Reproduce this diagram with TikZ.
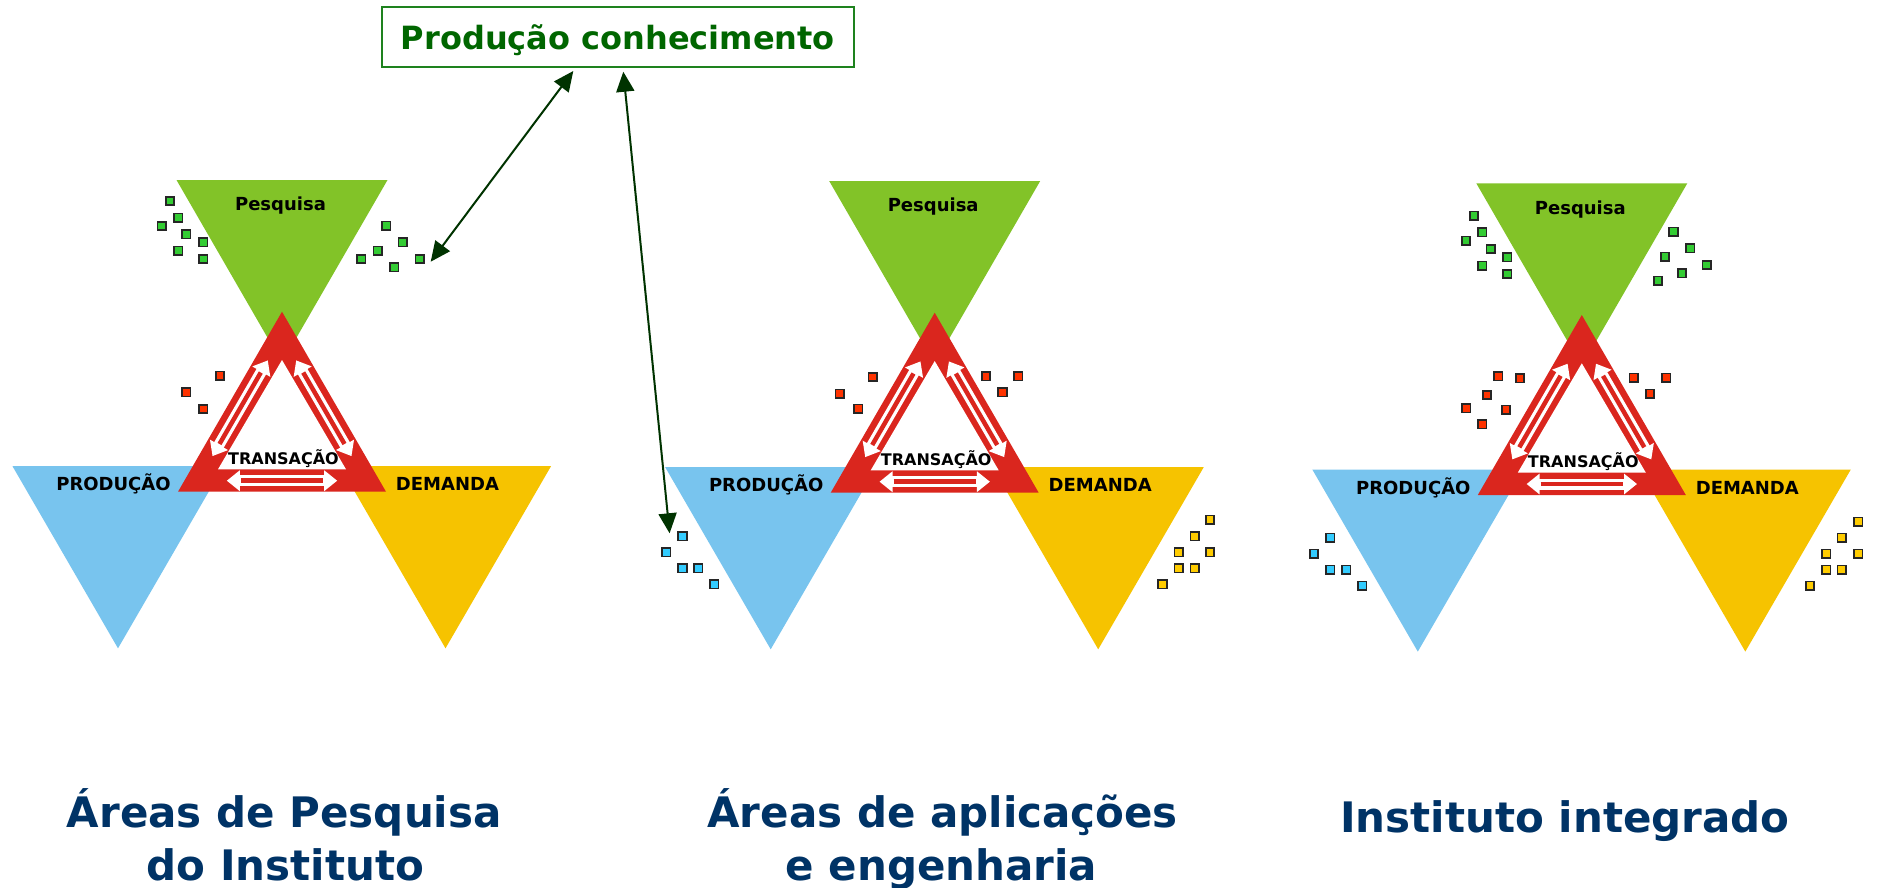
\documentclass[tikz,border=0pt]{standalone}
\usepackage{fontspec}
\setmainfont{DejaVu Sans}
\usetikzlibrary{arrows.meta}
\definecolor{pgreen}{RGB}{130,195,40}
\definecolor{pblue}{RGB}{120,196,238}
\definecolor{pyellow}{RGB}{246,195,0}
\definecolor{pred}{RGB}{218,38,30}
\definecolor{sqgreen}{RGB}{51,204,51}
\definecolor{sqred}{RGB}{255,51,0}
\definecolor{sqblue}{RGB}{51,204,255}
\definecolor{sqyellow}{RGB}{255,204,0}
\definecolor{boxtext}{RGB}{0,102,0}
\definecolor{boxline}{RGB}{30,130,30}
\definecolor{arrowgreen}{RGB}{0,51,0}
\definecolor{navy}{RGB}{0,51,102}
\tikzset{
 lbl/.style={anchor=base, inner sep=0pt, font=\fontsize{18}{20}\selectfont\bfseries, text=black},
 tlbl/.style={anchor=base, inner sep=0pt, font=\fontsize{16}{18}\selectfont\bfseries, text=black},
 sq/.style={draw=black!85, line width=1.6pt, minimum size=8.5pt, inner sep=0pt, outer sep=0pt},
 wa/.style={draw=white, line width=11pt, {Triangle[width=20pt,length=13pt]}-{Triangle[width=20pt,length=13pt]}},
 ws/.style={draw=pred, line width=4.5pt, shorten <=14pt, shorten >=14pt},
 conn/.style={draw=arrowgreen, line width=2pt, {Triangle[width=18pt,length=20pt]}-{Triangle[width=18pt,length=20pt]}},
 ttl/.style={anchor=base, inner sep=0pt, font=\fontsize{42}{48}\selectfont\bfseries, text=navy},
}
\newcommand{\trigroup}[3]{%
\begin{scope}[shift={(#2,#3)}]
\fill[pgreen] (-105.5,-131.7) -- (105.5,-131.7) -- (0,51) -- cycle;
\fill[pblue] (-269.5,154.5) -- (-58.5,154.5) -- (-164,336.6) -- cycle;
\fill[pyellow] (58,154.5) -- (269,154.5) -- (163.5,336.6) -- cycle;
\fill[pred] (0,0) -- (-104,180) -- (104,180) -- cycle;
\fill[white] (0,48.3) -- (-64,157.6) -- (64,157.6) -- cycle;
\coordinate (#1L1) at (-14.2,48.7); \coordinate (#1L2) at (-69.5,144.4);
\coordinate (#1R1) at (14.2,48.7); \coordinate (#1R2) at (69.5,144.4);
\coordinate (#1B1) at (-55.2,169); \coordinate (#1B2) at (55.2,169);
\draw[wa] (#1L1) -- (#1L2); \draw[ws] (#1L1) -- (#1L2);
\draw[wa] (#1R1) -- (#1R2); \draw[ws] (#1R1) -- (#1R2);
\draw[wa] (#1B1) -- (#1B2); \draw[ws] (#1B1) -- (#1B2);
\node[lbl] (#1pes) at (-1.5,-101) {Pesquisa};
\node[lbl] (#1pro) at (-168.5,179) {PRODUÇÃO};
\node[lbl] (#1dem) at (165.5,179) {DEMANDA};
\node[tlbl] (#1tra) at (1.5,152.3) {TRANSAÇÃO};
\end{scope}}
\begin{document}
\begin{tikzpicture}[x=1pt,y=-1pt]
\useasboundingbox[fill=white] (0,0) rectangle (1877,887);
\trigroup{ga}{282}{311.7}
\trigroup{gb}{934.7}{312.7}
\trigroup{gc}{1581.8}{315}
% squares
\foreach \x/\y [count=\i] in {170/201,178.2/217.7,161.8/226,186.4/234.3,203.2/242.3,178.2/250.7,203.2/259,386.4/225.7,402.9/242.3,377.9/250.7,361.4/259,394.3/267.3,419.6/259,1474/215.7,1482.2/232.3,1466/240.7,1490.6/249,1507.2/257.3,1482.2/265.7,1507.2/274,1673.5/231.7,1690.4/248.3,1665/256.7,1706.6/265,1682/273.3,1658/280.7}
  \node[sq, fill=sqgreen] (sg\i) at (\x,\y) {};
\foreach \x/\y [count=\i] in {220/375.7,186.4/392.3,203.2/409,872.9/377,839.6/393.7,858.2/408.7,986/376.3,1018.2/376.3,1002.5/392.3,1498.3/376.3,1520/378.3,1487/395,1466.3/408.3,1506/409.7,1482.2/424.3,1633.8/377.7,1666.1/377.7,1650/393.7}
  \node[sq, fill=sqred] (sr\i) at (\x,\y) {};
\foreach \x/\y [count=\i] in {682.5/536.3,666.4/552.3,682.5/568.3,698.2/568.3,714.3/584.3,1330.2/537.7,1314/553.7,1330.2/569.7,1346.4/569.7,1362.2/585.7}
  \node[sq, fill=sqblue] (sb\i) at (\x,\y) {};
\foreach \x/\y [count=\i] in {1210/519.7,1194.6/536.3,1178.6/552.3,1210/552.3,1178.6/568.3,1194.6/568.3,1162.5/584.3,1858.2/521.7,1841.7/537.7,1826.2/553.7,1858.2/553.7,1826.2/569.7,1841.7/569.7,1810/585.7}
  \node[sq, fill=sqyellow] (sy\i) at (\x,\y) {};
% top box
\node[draw=boxline, line width=2pt, minimum width=472pt, minimum height=60pt, inner sep=0pt,
  text height=25pt, text depth=0pt, text=boxtext, font=\fontsize{32}{36}\selectfont\bfseries]
  (pc) at (617.85,36.7) {Produção conhecimento};
\coordinate (a1top) at (573.3,71);
\coordinate (a1bot) at (430.7,261.7);
\coordinate (a2top) at (623.3,71.7);
\coordinate (a2bot) at (669.6,533.3);
\draw[conn] (a1top) -- (a1bot);
\draw[conn] (a2top) -- (a2bot);
% titles
\node[ttl] (t1a) at (284.3,827) {Áreas de Pesquisa};
\node[ttl] (t1b) at (285.5,880) {do Instituto};
\node[ttl] (t2a) at (942.7,827) {Áreas de aplicações};
\node[ttl] (t2b) at (941.5,880) {e engenharia};
\node[ttl] (t3a) at (1565,832) {Instituto integrado};
\end{tikzpicture}
\end{document}
